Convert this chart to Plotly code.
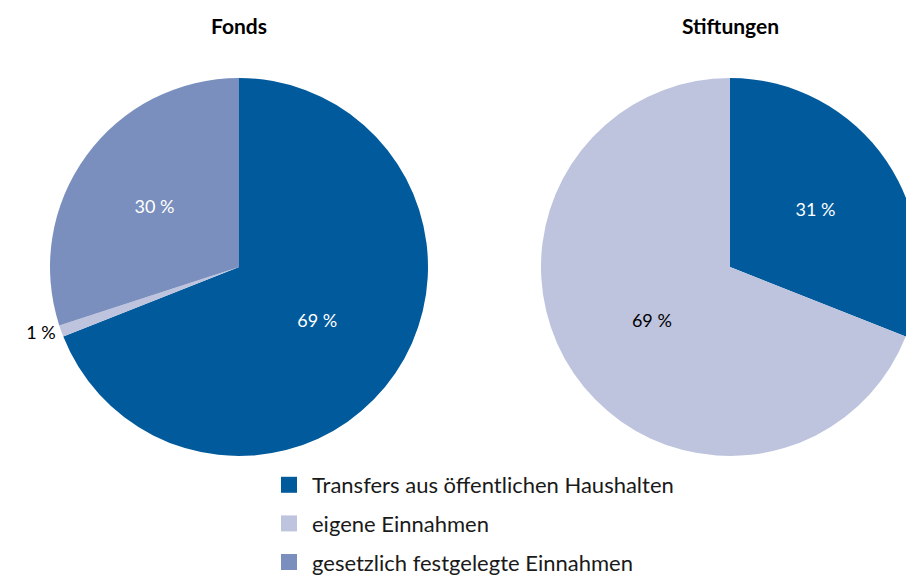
import plotly.graph_objects as go

labels = ["Transfers aus öffentlichen Haushalten", "eigene Einnahmen", "gesetzlich festgelegte Einnahmen"]
colors = ["#005A9C", "#BEC4DE", "#7A8FBD"]
fonds_values = [69, 1, 30]
stiftungen_values = [31, 69, 0]
titles = ["Fonds", "Stiftungen"]

W, H = 980, 576
FONT = "Lato, Calibri, sans-serif"

fonds_dom = dict(x=[50 / W, 428 / W], y=[120 / H, 498 / H])
stift_dom = dict(x=[541 / W, 919 / W], y=[120 / H, 498 / H])

def pct_text(vals):
    return [f"{v} %" if v > 0 else "" for v in vals]

fig = go.Figure()
fig.add_trace(go.Pie(
    labels=labels, values=fonds_values, domain=fonds_dom,
    sort=False, direction="clockwise", rotation=0,
    marker=dict(colors=colors, line=dict(width=0)),
    text=pct_text(fonds_values), textinfo="text",
    textposition=["inside", "outside", "inside"],
    insidetextfont=dict(color=["white", "black", "white"], size=18, family=FONT),
    outsidetextfont=dict(color="black", size=18, family=FONT),
    insidetextorientation="horizontal",
    showlegend=False, hoverinfo="label+percent",
))
fig.add_trace(go.Pie(
    labels=labels, values=stiftungen_values, domain=stift_dom,
    sort=False, direction="clockwise", rotation=0,
    marker=dict(colors=colors, line=dict(width=0)),
    text=pct_text(stiftungen_values), textinfo="text",
    textposition="inside",
    insidetextfont=dict(color=["white", "black", "white"], size=18, family=FONT),
    insidetextorientation="horizontal",
    showlegend=False, hoverinfo="label+percent",
))

# legend entries (square swatches)
for lab, col in zip(labels, colors):
    fig.add_trace(go.Scatter(
        x=[None], y=[None], mode="markers", name=lab, legendgroup=lab,
        marker=dict(symbol="square", size=20, color=col),
        showlegend=True, hoverinfo="skip",
    ))

for dom, t in zip([fonds_dom, stift_dom], titles):
    fig.add_annotation(
        x=(dom["x"][0] + dom["x"][1]) / 2, y=1 - 25 / H, xref="paper", yref="paper",
        text=f"<b>{t}</b>", showarrow=False, xanchor="center", yanchor="middle",
        font=dict(size=21, color="black", family=FONT),
    )

fig.update_layout(
    width=W, height=H,
    margin=dict(l=0, r=0, t=0, b=0, autoexpand=False),
    paper_bgcolor="white", plot_bgcolor="white",
    font=dict(family=FONT, size=22, color="#1a1a1a"),
    xaxis=dict(visible=False), yaxis=dict(visible=False),
    legend=dict(
        orientation="v", x=266 / W, y=1 - 464 / H, xanchor="left", yanchor="top",
        font=dict(size=22, family=FONT, color="#1a1a1a"),
        traceorder="grouped", tracegroupgap=7, itemwidth=36,
        bgcolor="rgba(0,0,0,0)",
    ),
)

fig.write_html(
    "out.html",
    config={"displayModeBar": False},
    post_script="document.body.style.margin='0';document.body.style.overflow='hidden';",
)
